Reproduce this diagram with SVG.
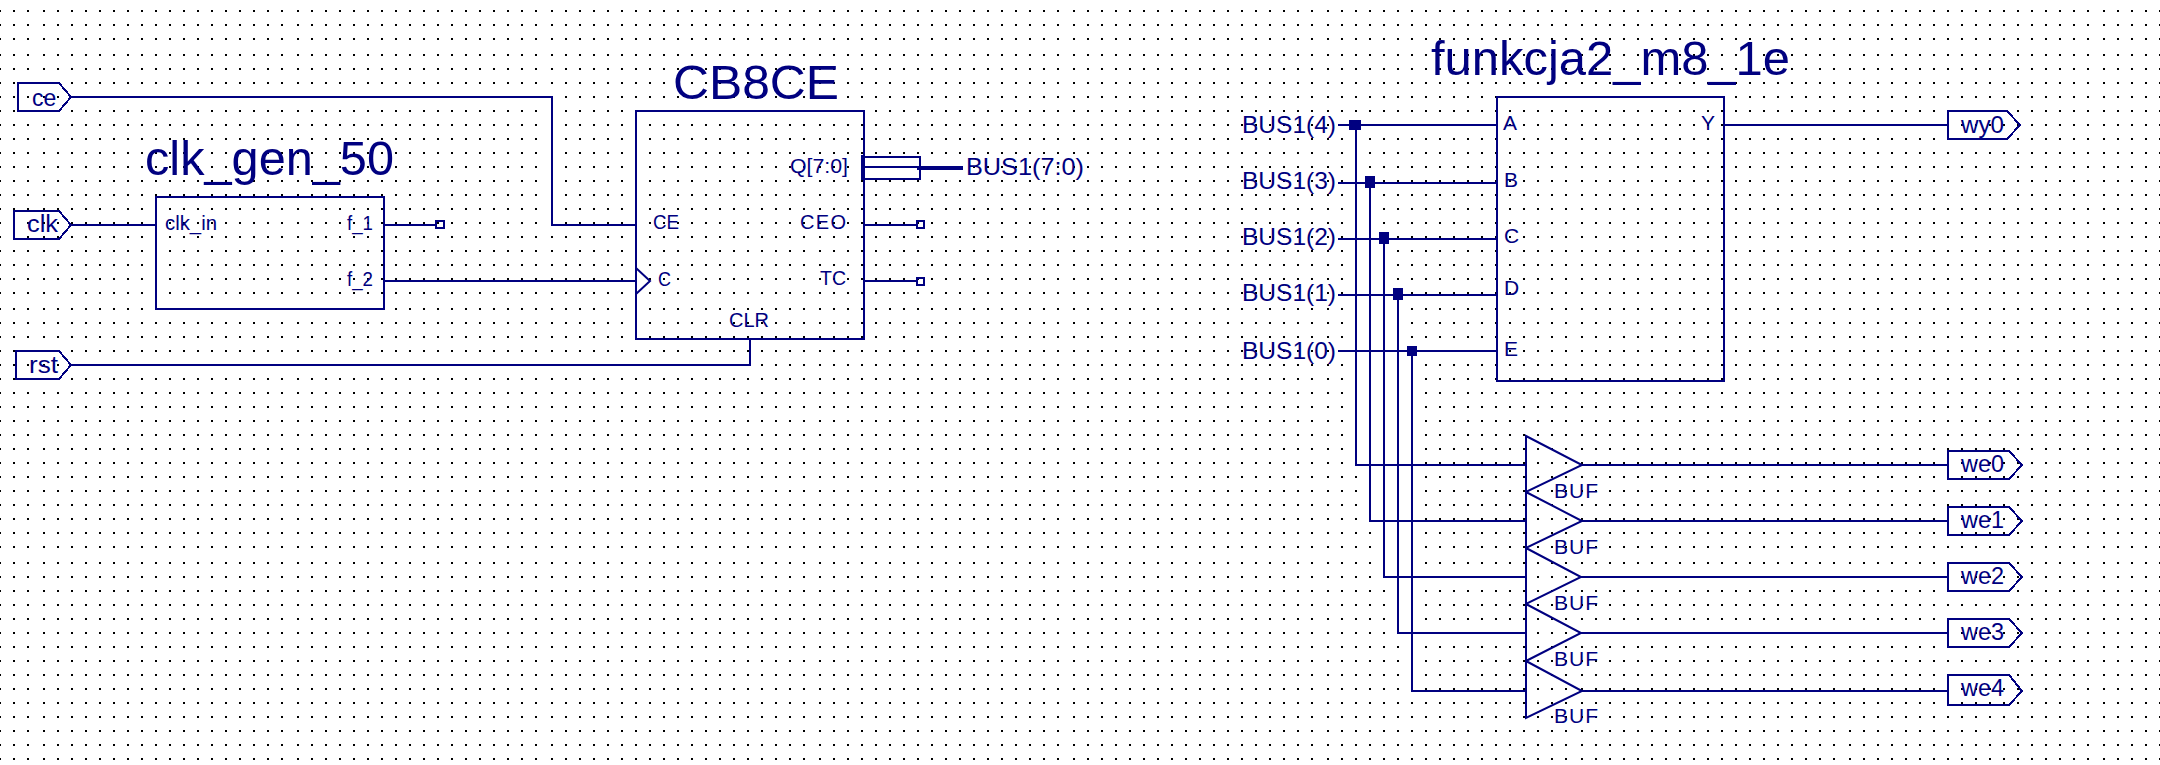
<svg xmlns="http://www.w3.org/2000/svg" xmlns:xlink="http://www.w3.org/1999/xlink" width="2160" height="765" viewBox="0 0 2160 765">
<style>
text{font-family:"Liberation Sans",Arial,sans-serif;fill:#000080}
.title{font-size:48px}
.pin{font-size:20px}
.net{font-size:24px}
.tag{font-size:23px}
.buf{font-size:21px}
.shape{fill:none;stroke:#000080;stroke-width:2;shape-rendering:crispEdges}
.wire{fill:none;stroke:#000080;stroke-width:2;shape-rendering:crispEdges}
.bus{fill:none;stroke:#000080;stroke-width:4;shape-rendering:crispEdges}
.junction{fill:#000080;shape-rendering:crispEdges}
</style>
<defs>
<path id="row" fill="none" stroke="#000" stroke-width="2" stroke-dasharray="2 12" shape-rendering="crispEdges" d="M-1 0H36M43 0H290M297 0H544M551 0H812M819 0H1066M1073 0H1320M1327 0H1574M1581 0H1842M1849 0H2096M2103 0H2162"/>
</defs>
<rect width="2160" height="765" fill="#fff"/>
<g id="grid">
<use href="#row" y="11"/><use href="#row" y="25"/><use href="#row" y="39"/><use href="#row" y="55"/><use href="#row" y="69"/><use href="#row" y="83"/><use href="#row" y="97"/><use href="#row" y="111"/><use href="#row" y="125"/><use href="#row" y="139"/><use href="#row" y="153"/><use href="#row" y="167"/><use href="#row" y="181"/><use href="#row" y="195"/><use href="#row" y="209"/><use href="#row" y="223"/><use href="#row" y="237"/><use href="#row" y="251"/><use href="#row" y="265"/><use href="#row" y="279"/><use href="#row" y="293"/>
<use href="#row" y="309"/><use href="#row" y="323"/><use href="#row" y="337"/><use href="#row" y="351"/><use href="#row" y="365"/><use href="#row" y="379"/><use href="#row" y="393"/><use href="#row" y="407"/><use href="#row" y="421"/><use href="#row" y="435"/><use href="#row" y="449"/><use href="#row" y="463"/><use href="#row" y="477"/><use href="#row" y="491"/><use href="#row" y="505"/><use href="#row" y="519"/><use href="#row" y="533"/><use href="#row" y="547"/>
<use href="#row" y="563"/><use href="#row" y="577"/><use href="#row" y="591"/><use href="#row" y="605"/><use href="#row" y="619"/><use href="#row" y="633"/><use href="#row" y="647"/><use href="#row" y="661"/><use href="#row" y="675"/><use href="#row" y="689"/><use href="#row" y="703"/><use href="#row" y="717"/><use href="#row" y="731"/><use href="#row" y="745"/><use href="#row" y="759"/>
</g>
<g id="connectors">
<path class="wire" d="M71 97H552V225H636"/>
<path class="wire" d="M71 225H156"/>
<path class="wire" d="M384 225H436"/>
<path class="wire" d="M384 281H636"/>
<path class="wire" d="M71 365H750V339"/>
<path class="wire" d="M864 167H920"/>
<path class="bus" d="M917 168H963"/>
<path class="wire" d="M864 225H917"/>
<path class="wire" d="M864 281H917"/>
<path class="wire" d="M1724 125H1948"/>
<path class="wire" d="M1338 125H1497"/>
<path class="wire" d="M1338 183H1497"/>
<path class="wire" d="M1338 239H1497"/>
<path class="wire" d="M1338 295H1497"/>
<path class="wire" d="M1338 351H1497"/>
<path class="wire" d="M1356 125V465H1526"/>
<path class="wire" d="M1370 183V521H1526"/>
<path class="wire" d="M1384 239V577H1526"/>
<path class="wire" d="M1398 295V633H1526"/>
<path class="wire" d="M1412 351V691H1526"/>
<path class="wire" d="M1582 465H1948"/>
<path class="wire" d="M1582 521H1948"/>
<path class="wire" d="M1581 577H1948"/>
<path class="wire" d="M1581 633H1948"/>
<path class="wire" d="M1582 691H1948"/>
<rect class="junction" x="1349" y="120" width="12" height="10"/>
<rect class="junction" x="1365" y="176" width="10" height="12"/>
<rect class="junction" x="1379" y="232" width="10" height="12"/>
<rect class="junction" x="1393" y="288" width="10" height="12"/>
<rect class="junction" x="1407" y="346" width="10" height="10"/>
<rect class="shape" x="436" y="221" width="8" height="7"/>
<rect class="shape" x="917" y="221" width="7" height="7"/>
<rect class="shape" x="917" y="278" width="7" height="7"/>
</g>
<g id="port-ce"><polygon class="shape" points="18,83 59,83 71,97 59,111 18,111"/><text class="tag" x="32" y="106">ce</text></g>
<g id="port-clk"><polygon class="shape" points="14,211 59,211 71,225 59,239 14,239"/><text class="tag" x="27" y="232" textLength="31" lengthAdjust="spacingAndGlyphs">clk</text></g>
<g id="port-rst"><polygon class="shape" points="16,351 59,351 71,365 59,379 16,379"/><text class="tag" x="29" y="373" textLength="29" lengthAdjust="spacingAndGlyphs">rst</text></g>
<g id="clk_gen_50">
<rect class="shape" x="156" y="197" width="228" height="112"/>
<text class="title" x="145" y="175" textLength="249" lengthAdjust="spacingAndGlyphs">clk_gen_50</text>
<text class="pin" x="165" y="230" textLength="52" lengthAdjust="spacingAndGlyphs">clk_in</text>
<text class="pin" x="347" y="230" textLength="26" lengthAdjust="spacingAndGlyphs">f_1</text>
<text class="pin" x="347" y="286" textLength="26" lengthAdjust="spacingAndGlyphs">f_2</text>
</g>
<g id="CB8CE">
<rect class="shape" x="636" y="111" width="228" height="228"/>
<polyline class="shape" points="636,268 650,281 636,294" style="shape-rendering:auto"/>
<path class="bus" d="M863 155V180"/>
<rect class="shape" x="864" y="157" width="56" height="22"/>
<text class="title" x="673" y="99" textLength="166" lengthAdjust="spacingAndGlyphs">CB8CE</text>
<text class="pin" x="653" y="229" textLength="26" lengthAdjust="spacingAndGlyphs">CE</text>
<text class="pin" x="658" y="286" textLength="13" lengthAdjust="spacingAndGlyphs">C</text>
<text class="pin" x="729" y="327" textLength="40" lengthAdjust="spacing">CLR</text>
<text class="pin" x="790" y="173" textLength="58" lengthAdjust="spacingAndGlyphs">Q[7:0]</text>
<text class="pin" x="800" y="229" textLength="46" lengthAdjust="spacing">CEO</text>
<text class="pin" x="820" y="285" textLength="26" lengthAdjust="spacingAndGlyphs">TC</text>
<text class="net" x="966" y="175" textLength="118" lengthAdjust="spacingAndGlyphs">BUS1(7:0)</text>
</g>
<g id="bus-labels">
<text class="net" x="1242" y="133" textLength="94" lengthAdjust="spacingAndGlyphs">BUS1(4)</text>
<text class="net" x="1242" y="189" textLength="94" lengthAdjust="spacingAndGlyphs">BUS1(3)</text>
<text class="net" x="1242" y="245" textLength="94" lengthAdjust="spacingAndGlyphs">BUS1(2)</text>
<text class="net" x="1242" y="301" textLength="94" lengthAdjust="spacingAndGlyphs">BUS1(1)</text>
<text class="net" x="1242" y="359" textLength="94" lengthAdjust="spacingAndGlyphs">BUS1(0)</text>
</g>
<g id="funkcja2_m8_1e">
<rect class="shape" x="1497" y="97" width="227" height="284"/>
<text class="title" x="1431" y="75" textLength="359" lengthAdjust="spacingAndGlyphs">funkcja2_m8_1e</text>
<text class="buf" x="1503" y="130">A</text>
<text class="buf" x="1504" y="187">B</text>
<text class="buf" x="1504" y="243">C</text>
<text class="buf" x="1504" y="295">D</text>
<text class="buf" x="1504" y="356">E</text>
<text class="buf" x="1701" y="130">Y</text>
</g>
<g id="port-wy0"><polygon class="shape" points="1948,111 2007,111 2020,125 2007,139 1948,139"/><text class="tag" x="1961" y="133" textLength="43" lengthAdjust="spacingAndGlyphs">wy0</text></g>
<g id="buf0"><polygon class="shape" points="1526,436 1582,465 1526,492" style="shape-rendering:auto"/><text class="buf" x="1554" y="498" textLength="44" lengthAdjust="spacing">BUF</text></g>
<g id="buf1"><polygon class="shape" points="1526,492 1582,521 1526,548" style="shape-rendering:auto"/><text class="buf" x="1554" y="554" textLength="44" lengthAdjust="spacing">BUF</text></g>
<g id="buf2"><polygon class="shape" points="1526,548 1581,577 1526,604" style="shape-rendering:auto"/><text class="buf" x="1554" y="610" textLength="44" lengthAdjust="spacing">BUF</text></g>
<g id="buf3"><polygon class="shape" points="1526,604 1581,633 1526,661" style="shape-rendering:auto"/><text class="buf" x="1554" y="666" textLength="44" lengthAdjust="spacing">BUF</text></g>
<g id="buf4"><polygon class="shape" points="1526,661 1582,691 1526,718" style="shape-rendering:auto"/><text class="buf" x="1554" y="723" textLength="44" lengthAdjust="spacing">BUF</text></g>
<g id="port-we0"><polygon class="shape" points="1948,451 2009,451 2022,465 2009,479 1948,479"/><text class="tag" x="1961" y="472" textLength="43" lengthAdjust="spacingAndGlyphs">we0</text></g>
<g id="port-we1"><polygon class="shape" points="1948,507 2009,507 2022,521 2009,535 1948,535"/><text class="tag" x="1961" y="528" textLength="43" lengthAdjust="spacingAndGlyphs">we1</text></g>
<g id="port-we2"><polygon class="shape" points="1948,563 2009,563 2022,577 2009,591 1948,591"/><text class="tag" x="1961" y="584" textLength="43" lengthAdjust="spacingAndGlyphs">we2</text></g>
<g id="port-we3"><polygon class="shape" points="1948,619 2009,619 2022,633 2009,647 1948,647"/><text class="tag" x="1961" y="640" textLength="43" lengthAdjust="spacingAndGlyphs">we3</text></g>
<g id="port-we4"><polygon class="shape" points="1948,675 2009,675 2022,691 2009,705 1948,705"/><text class="tag" x="1961" y="696" textLength="43" lengthAdjust="spacingAndGlyphs">we4</text></g>
</svg>
